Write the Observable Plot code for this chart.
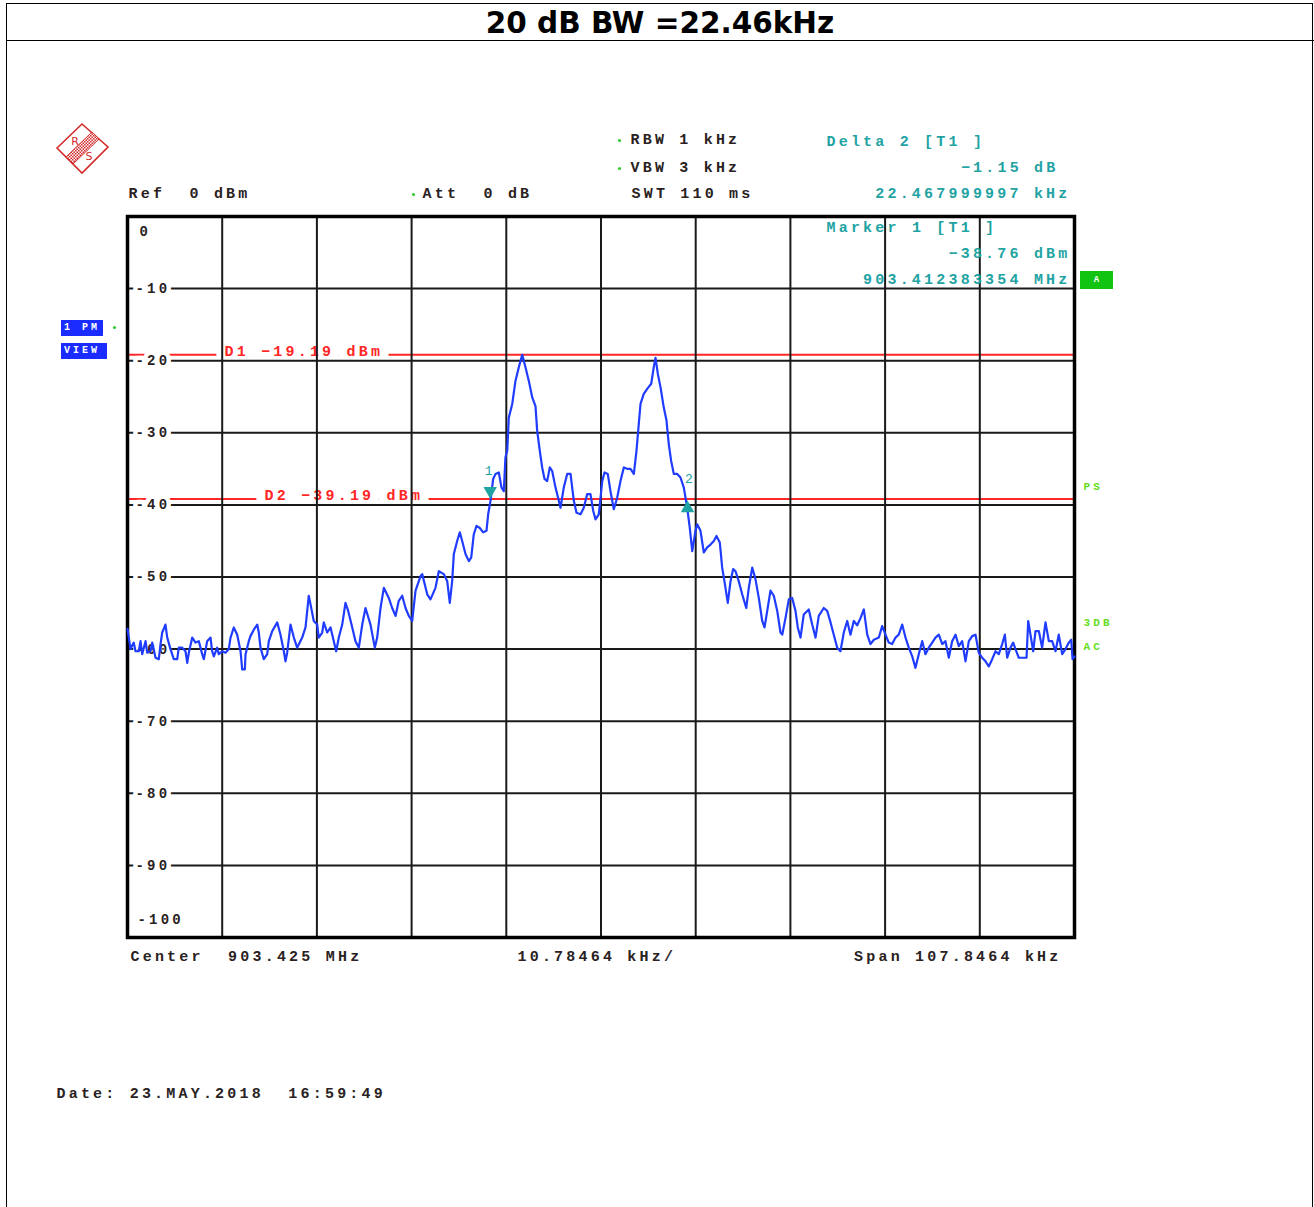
<!DOCTYPE html>
<html>
<head>
<meta charset="utf-8">
<script src="https://cdn.jsdelivr.net/npm/d3@7"></script>
<script src="https://cdn.jsdelivr.net/npm/@observablehq/plot@0.6"></script>
<style>
  body { margin: 0; background: #fff; }
  #page { position: relative; width: 1314px; height: 1207px; overflow: hidden; background: #fff; }
  #border { position: absolute; left: 6px; top: 3px; width: 1307px; height: 1230px; border: 1.5px solid #000; box-sizing: border-box; }
  #title { position: absolute; left: 6px; top: 3px; width: 1308px; height: 38px; border-bottom: 1.5px solid #000; box-sizing: border-box;
           font: bold 29.5px "DejaVu Sans", sans-serif; text-align: center; line-height: 41px; color: #000; }
  #chart { position: absolute; left: 0; top: 0; }
  #chart svg text { letter-spacing: 3.2px; }
  .box { position: absolute; background: #1a2cff; color: #fff; font: bold 10px "Liberation Mono", monospace; letter-spacing: 3px; line-height: 16px; padding-left: 3px; box-sizing: border-box; overflow: hidden; white-space: nowrap; }
  #abox { position: absolute; left: 1080px; top: 271px; width: 33px; height: 18px; background: #12c412; color: #fff; font: bold 9px "Liberation Mono", monospace; text-align: center; line-height: 18px; }
  #logo { position: absolute; left: 52px; top: 119px; }
</style>
</head>
<body>
<div id="page">
  <div id="border"></div>
  <div id="title">20 dB BW =22.46kHz</div>
  <svg id="logo" width="62" height="62" viewBox="52 119 62 62">
    <defs>
      <pattern id="hatch" width="3" height="3" patternUnits="userSpaceOnUse">
        <rect width="3" height="3" fill="#fff"/>
        <rect width="1.5" height="1.5" fill="#d42a2a"/>
        <rect x="1.5" y="1.5" width="1.5" height="1.5" fill="#d42a2a"/>
      </pattern>
    </defs>
    <polygon points="57,148 82,124 108,147 82,173" fill="#fff" stroke="#d42a2a" stroke-width="1.6"/>
    <polygon points="92,132 99,139 73,164 66,157" fill="url(#hatch)" stroke="#d42a2a" stroke-width="1"/>
    <text x="75" y="145" font-family="DejaVu Sans, sans-serif" font-size="11" fill="#d42a2a" text-anchor="middle">R</text>
    <text x="89" y="160" font-family="DejaVu Sans, sans-serif" font-size="11" fill="#d42a2a" text-anchor="middle">S</text>
  </svg>
  <div class="box" style="left:61px;top:320px;width:42px;height:16px;">1 PM</div>
  <div class="box" style="left:61px;top:343px;width:46px;height:16px;">VIEW</div>
  <div id="abox">A</div>
  <div id="chart"></div>
</div>
<script>
// ---- instrument settings ----
const centerMHz = 903.425;
const spanKHz = 107.8464;
const divKHz = 10.78464;
const refLevel = 0;
const dbPerDiv = 10;
const displayLine1 = -19.19;
const displayLine2 = -39.19;
const marker1 = { f: -12.616646, db: -38.76 };   // 903.412383354 MHz
const delta2 = { df: 22.467999997, ddb: -1.15 };

// ---- trace: [offset from center (kHz), level (dBm)] ----
const traceLow = [
[-53.92,-57.2],[-53.58,-60.0],[-53.21,-59.1],[-53.01,-60.3],[-52.64,-60.3],[-52.44,-58.9],[-52.25,-60.7],[-51.87,-58.9],[-51.68,-60.5],[-51.30,-60.3],
[-51.11,-59.1],[-50.73,-61.2],[-50.36,-61.4],[-50.16,-59.3],[-49.97,-57.7],[-49.60,-56.6],[-49.40,-58.4],[-49.03,-60.0],[-48.65,-61.4],[-48.26,-61.4],
[-48.08,-59.8],[-47.69,-59.8],[-47.32,-60.3],[-47.12,-61.9],[-46.94,-60.5],[-46.55,-58.4],[-46.18,-59.1],[-45.80,-58.9],[-45.42,-60.7],[-45.23,-61.4],
[-44.85,-58.9],[-44.47,-58.4],[-44.28,-60.3],[-44.09,-61.0],[-43.71,-59.8],[-43.53,-60.7],[-43.14,-60.3],[-42.76,-60.5],[-42.39,-60.0],[-42.19,-58.4],
[-41.82,-57.0],[-41.43,-58.0],[-41.05,-60.3],[-40.86,-62.8],[-40.56,-62.8],[-40.48,-60.7],[-40.11,-58.9],[-39.92,-58.2],[-39.54,-57.3],[-39.15,-56.6],
[-38.97,-57.7],[-38.78,-59.8],[-38.40,-61.4],[-38.01,-60.7],[-37.83,-58.9],[-37.44,-57.5],[-36.87,-56.3],[-36.50,-58.0],[-36.12,-60.3],[-35.93,-61.7],
[-35.74,-60.5],[-35.36,-56.6],[-34.98,-58.4],[-34.60,-59.8],[-34.03,-58.4],[-33.65,-57.0],[-33.28,-52.6],[-33.08,-53.8],[-32.71,-56.1],[-32.32,-56.6],
[-32.14,-58.4],[-31.75,-57.7],[-31.57,-56.3],[-31.18,-57.7],[-30.80,-57.0],[-30.43,-58.9],[-30.16,-60.3],[-29.86,-58.4],[-29.47,-56.6],[-29.10,-53.6],
[-28.79,-54.7],[-28.33,-57.0],[-27.96,-58.9],[-27.58,-59.8],[-27.19,-56.6],[-26.82,-54.3],[-26.25,-56.6],[-25.76,-59.8],[-25.49,-58.4],[-25.11,-54.3],
[-24.73,-51.5],[-24.17,-52.9],[-23.78,-54.3],[-23.40,-55.4],[-23.03,-53.3],[-22.64,-52.6],[-22.26,-54.3],[-21.89,-55.4],[-21.50,-56.1],[-21.12,-51.9],
[-20.56,-49.9]
];
const traceMain = [
[-20.36,-49.6],[-19.79,-52.4],[-19.42,-53.1],[-18.85,-51.5],[-18.47,-49.2],[-17.90,-49.6],[-17.51,-50.6],[-17.22,-53.6],[-16.95,-50.6],[-16.76,-46.8],
[-16.38,-45.0],[-16.08,-43.8],[-15.81,-45.0],[-15.43,-46.8],[-15.05,-47.8],[-14.78,-47.3],[-14.49,-44.1],[-14.18,-42.9],[-13.80,-43.2],[-13.42,-43.8],
[-13.04,-43.6],[-12.85,-41.3],[-12.58,-39.4],[-12.28,-36.4],[-12.01,-35.7],[-11.64,-35.5],[-11.33,-37.6],[-11.07,-38.1],[-10.88,-33.4],[-10.68,-32.5],
[-10.50,-27.9],[-10.11,-26.0],[-9.74,-22.8],[-9.36,-20.9],[-8.97,-19.19],[-8.60,-20.9],[-8.22,-22.8],[-7.83,-25.1],[-7.46,-26.3],[-7.27,-29.7],
[-6.97,-32.5],[-6.70,-34.8],[-6.43,-36.4],[-6.13,-36.7],[-5.83,-34.8],[-5.56,-35.3],[-5.18,-37.6],[-4.81,-39.4],[-4.61,-40.4],[-4.24,-37.6],
[-3.85,-35.7],[-3.47,-35.7],[-3.10,-39.4],[-2.79,-41.1],[-2.33,-41.3],[-1.96,-40.4],[-1.57,-38.5],[-1.20,-38.5],[-0.89,-40.8],[-0.63,-42.0],
[-0.25,-41.3],[0.14,-36.7],[0.40,-35.5],[0.77,-35.7],[1.08,-38.1],[1.46,-40.6],[1.84,-39.0],[2.22,-36.7],[2.60,-34.8],[2.98,-35.0],
[3.36,-35.0],[3.74,-35.7],[4.04,-32.5],[4.30,-28.8],[4.50,-26.0],[4.87,-24.6],[5.26,-23.9],[5.72,-23.2],[6.01,-20.9],[6.21,-19.6],
[6.47,-21.8],[6.78,-23.7],[7.15,-26.5],[7.46,-28.3],[7.72,-31.6],[7.99,-33.9],[8.29,-35.7],[8.68,-35.7],[9.05,-36.2],[9.43,-37.6],
[9.82,-40.4],[10.11,-43.2],[10.39,-46.4],[10.76,-43.6],[10.96,-42.7]
];
const traceHigh = [
[11.33,-43.6],[11.71,-46.6],[12.09,-45.9],[12.47,-45.5],[12.85,-45.0],[13.15,-44.3],[13.53,-45.2],[13.80,-48.7],[14.06,-50.6],[14.44,-53.6],
[14.75,-50.6],[15.05,-48.9],[15.32,-49.2],[15.69,-50.6],[16.08,-52.4],[16.54,-54.3],[16.83,-51.5],[17.22,-48.7],[17.59,-50.3],[17.97,-52.9],
[18.36,-56.1],[18.62,-57.0],[18.93,-54.7],[19.30,-51.9],[19.68,-52.6],[20.07,-54.7],[20.44,-57.7],[20.64,-58.0],[21.01,-55.7],[21.39,-53.1],
[21.77,-52.9],[22.15,-54.7],[22.41,-57.0],[22.72,-58.4],[23.09,-55.2],[23.66,-54.5],[24.05,-56.6],[24.43,-58.4],[24.80,-55.4],[25.37,-54.3],
[25.76,-54.7],[26.14,-56.3],[26.51,-58.0],[26.90,-59.8],[27.27,-60.3],[27.65,-57.7],[28.04,-56.1],[28.41,-58.0],[28.79,-56.1],[29.18,-56.7],
[29.55,-55.7],[29.93,-54.5],[30.32,-58.0],[30.69,-59.3],[31.07,-58.7],[31.64,-58.4],[32.02,-56.8],[32.40,-58.0],[32.77,-59.1],[33.16,-59.3],
[33.54,-58.4],[33.91,-58.0],[34.30,-56.6],[34.68,-58.4],[35.05,-59.8],[35.44,-61.0],[35.81,-62.6],[36.19,-60.7],[36.58,-58.9],[36.95,-60.7],
[37.33,-59.8],[37.72,-59.1],[38.09,-58.4],[38.47,-58.0],[38.86,-59.3],[39.23,-58.9],[39.61,-61.2],[39.99,-58.9],[40.37,-58.0],[40.75,-59.6],
[41.13,-58.9],[41.51,-61.7],[41.89,-58.9],[42.27,-58.2],[42.65,-58.0],[43.02,-60.5],[43.41,-61.2],[43.79,-61.7],[44.16,-62.4],[44.55,-61.4],
[44.93,-60.3],[45.30,-60.7],[45.69,-59.3],[45.99,-58.0],[46.26,-61.2],[46.63,-59.8],[46.94,-59.1],[47.20,-60.0],[47.58,-61.2],[48.15,-61.2],
[48.46,-61.2],[48.65,-56.1],[48.91,-58.0],[49.22,-60.3],[49.48,-57.5],[49.86,-57.5],[50.24,-59.8],[50.62,-56.3],[51.00,-58.9],[51.38,-58.9],
[51.76,-60.3],[52.13,-58.0],[52.52,-60.7],[52.90,-60.0],[53.28,-59.1],[53.55,-58.7],[53.70,-61.4],[53.92,-61.0]
];

// ---- text labels ----
const yLabelValues = [-10, -20, -30, -40, -50, -60, -70, -80, -90];
const settingsLeft = "Ref  0 dBm";
const settingsAtt = "Att  0 dB";
const settingsRBW = "RBW 1 kHz";
const settingsVBW = "VBW 3 kHz";
const settingsSWT = "SWT 110 ms";
const dateText = "Date: 23.MAY.2018  16:59:49";
const sideLabels = [{t: "PS", dy: 270}, {t: "3DB", dy: 406}, {t: "AC", dy: 430}];

// ---- derived ----
const trace = [...traceLow, ...traceMain, ...traceHigh].map(([f, db]) => ({f, db}));
const xDomain = [-spanKHz / 2, spanKHz / 2];
const xGrid = d3.range(-5, 6).map(i => i * divKHz);
const yGrid = d3.range(0, 11).map(i => refLevel - i * dbPerDiv);
const m1 = marker1;
const m2 = { f: marker1.f + delta2.df, db: marker1.db + delta2.ddb };
const fmt2 = d3.format(".2f");
const d1 = { level: displayLine1, label: `D1 ${fmt2(displayLine1)} dBm` };
const d2 = { level: displayLine2, label: `D2 ${fmt2(displayLine2)} dBm` };
const deltaLines = [
  "Delta 2 [T1 ]",
  `${fmt2(delta2.ddb)} dB`,
  `${delta2.df.toFixed(9)} kHz`
];
const markerLines = [
  "Marker 1 [T1 ]",
  `${fmt2(marker1.db)} dBm`,
  `${(centerMHz + marker1.f / 1000).toFixed(9)} MHz`
];

const mono = "Liberation Mono, monospace";
const dark = "#2a2222";
const teal = "#1fa3a3";
const red = "#ff2626";
const green = "#66dd22";
const base = { fontFamily: mono, fontWeight: "bold", fontSize: 15, fill: dark, lineAnchor: "middle" };
const T = (txt, o) => Plot.text([txt], { text: d => d, ...base, ...o });
const displayLabel = (d, dx) => Plot.text([d], { y: "level", text: "label", frameAnchor: "left", dx, dy: -4, textAnchor: "start",
  ...base, fill: red, stroke: "white", strokeWidth: 18, strokeLinejoin: "round" });

const chart = Plot.plot({
  width: 1314,
  height: 1207,
  marginLeft: 127,
  marginRight: 240,
  marginTop: 216,
  marginBottom: 270,
  x: { domain: xDomain, axis: null },
  y: { domain: [refLevel - 10 * dbPerDiv, refLevel], axis: null },
  style: { background: "transparent", overflow: "visible" },
  marks: [
    // display lines
    Plot.ruleY([d1, d2], { y: "level", stroke: red, strokeWidth: 2 }),
    displayLabel(d1, 97),
    displayLabel(d2, 137),
    // grid
    Plot.ruleX(xGrid, { stroke: "#1a1a1a", strokeWidth: 2 }),
    Plot.ruleY(yGrid, { stroke: "#1a1a1a", strokeWidth: 2 }),
    Plot.frame({ stroke: "#000", strokeWidth: 3.5 }),
    // y labels
    Plot.text(yLabelValues, { y: d => d, text: d => `${d}`, frameAnchor: "left", dx: 8, textAnchor: "start",
      ...base, fontSize: 14, stroke: "white", strokeWidth: 9 }),
    Plot.text([refLevel], { y: d => d, text: d => `${d}`, frameAnchor: "left", dx: 12, dy: 15, textAnchor: "start", ...base, fontSize: 14 }),
    Plot.text([refLevel - 10 * dbPerDiv], { y: d => d, text: d => `${d}`, frameAnchor: "left", dx: 10, dy: -18, textAnchor: "start", ...base, fontSize: 14 }),
    // trace
    Plot.line(trace, { x: "f", y: "db", stroke: "#1f3cff", strokeWidth: 2.2, curve: "linear" }),
    // markers
    Plot.dot([m1], { x: "f", y: "db", symbol: "triangle", rotate: 180, r: 5, fill: teal, dy: -5 }),
    Plot.dot([m2], { x: "f", y: "db", symbol: "triangle", r: 5, fill: teal, dy: 4 }),
    Plot.text([m1], { x: "f", y: "db", text: () => "1", dy: -25, ...base, fontWeight: "normal", fontSize: 13, fill: teal }),
    Plot.text([m2], { x: "f", y: "db", text: () => "2", dy: -25, dx: 3, ...base, fontWeight: "normal", fontSize: 13, fill: teal }),
    // header settings
    T(settingsLeft, { frameAnchor: "top-left", dx: 1, dy: -23, textAnchor: "start" }),
    T(settingsAtt, { frameAnchor: "top-left", dx: 295, dy: -23, textAnchor: "start" }),
    T(settingsRBW, { frameAnchor: "top-left", dx: 503, dy: -77, textAnchor: "start" }),
    T(settingsVBW, { frameAnchor: "top-left", dx: 503, dy: -49, textAnchor: "start" }),
    T(settingsSWT, { frameAnchor: "top-left", dx: 504, dy: -23, textAnchor: "start" }),
    Plot.dot([0], { frameAnchor: "top-left", dx: 492, dy: -76, r: 1.6, fill: "#33cc33" }),
    Plot.dot([0], { frameAnchor: "top-left", dx: 492, dy: -48, r: 1.6, fill: "#33cc33" }),
    Plot.dot([0], { frameAnchor: "top-left", dx: 286, dy: -22, r: 1.6, fill: "#33cc33" }),
    Plot.dot([0], { frameAnchor: "top-left", dx: -13, dy: 111, r: 1.6, fill: "#33cc33" }),
    // delta / marker readouts
    T(deltaLines[0], { frameAnchor: "top-left", dx: 699, dy: -75, textAnchor: "start", fill: teal }),
    T(deltaLines[1], { frameAnchor: "top-right", dx: -16, dy: -49, textAnchor: "end", fill: teal }),
    T(deltaLines[2], { frameAnchor: "top-right", dx: -4, dy: -23, textAnchor: "end", fill: teal }),
    T(markerLines[0], { frameAnchor: "top-left", dx: 699, dy: 11, textAnchor: "start", fill: teal }),
    T(markerLines[1], { frameAnchor: "top-right", dx: -4, dy: 37, textAnchor: "end", fill: teal }),
    T(markerLines[2], { frameAnchor: "top-right", dx: -4, dy: 63, textAnchor: "end", fill: teal }),
    // side labels
    ...sideLabels.map(s => T(s.t, { frameAnchor: "top-right", dx: 9, dy: s.dy, textAnchor: "start", fill: green, fontSize: 11 })),
    // bottom
    T(`Center  ${centerMHz.toFixed(3)} MHz`, { frameAnchor: "bottom-left", dx: 3, dy: 19, textAnchor: "start" }),
    T(`${divKHz} kHz/`, { frameAnchor: "bottom-left", dx: 390, dy: 19, textAnchor: "start" }),
    T(`Span ${spanKHz} kHz`, { frameAnchor: "bottom-right", dx: -13, dy: 19, textAnchor: "end" }),
    T(dateText, { frameAnchor: "bottom-left", dx: -71, dy: 156, textAnchor: "start" })
  ]
});
document.getElementById("chart").appendChild(chart);
</script>
</body>
</html>
